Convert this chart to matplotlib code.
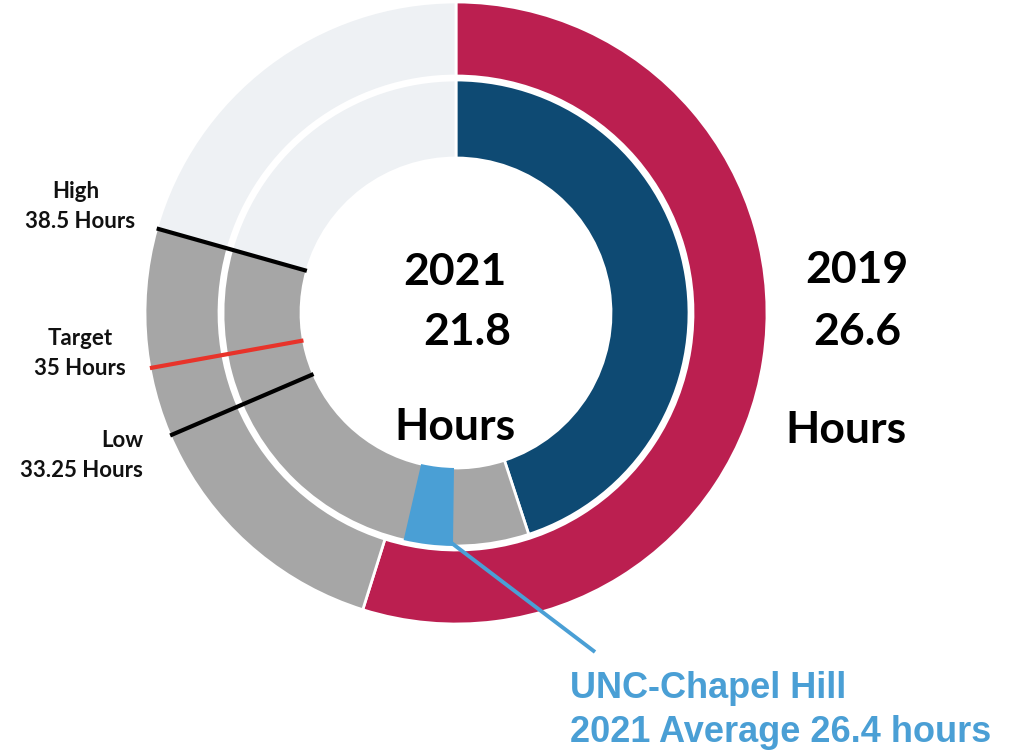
import matplotlib
matplotlib.use("Agg")
import matplotlib.pyplot as plt
from matplotlib.patches import Wedge
import numpy as np

# ---- data ----
scale_total = 48.5          # hours represented by the full circle
hours_2019 = 26.6
hours_2021 = 21.8
high_hours = 38.5
target_hours = 35.0
low_hours = 33.25
unc_marker = [24.35, 26.0]  # drawn span of the UNC marker (hours)

RED = "#bb1f50"
BLUE = "#0e4a73"
GRAY = "#a6a6a6"
LIGHT = "#eef1f4"
LBLUE = "#4a9fd5"
TRED = "#e8332a"

outer_vals = [hours_2019, high_hours - hours_2019, scale_total - high_hours]
inner_vals = [hours_2021, high_hours - hours_2021, scale_total - high_hours]

fig = plt.figure(figsize=(10.13, 7.5), dpi=100)
ax = fig.add_axes([0, 0, 1, 1])

cx, cy = 456, 313
R_out, W_out = 311, 74
R_in, W_in = 233, 78

ax.pie(outer_vals, radius=R_out, center=(cx, cy), startangle=-90, counterclock=True,
       colors=[RED, GRAY, LIGHT],
       wedgeprops=dict(width=W_out, edgecolor="white", linewidth=2))
ax.pie(inner_vals, radius=R_in, center=(cx, cy), startangle=-90, counterclock=True,
       colors=[BLUE, GRAY, LIGHT],
       wedgeprops=dict(width=W_in, edgecolor="white", linewidth=2))

def ang(h):
    return h / scale_total * 360.0 - 90.0

# UNC marker
ax.add_patch(Wedge((cx, cy), R_in, ang(unc_marker[0]), ang(unc_marker[1]),
                   width=W_in, facecolor=LBLUE, edgecolor="none", zorder=3))

# reference lines
r0, r1 = R_in - W_in, R_out
for h, c in [(high_hours, "black"), (target_hours, TRED), (low_hours, "black")]:
    a = np.deg2rad(ang(h))
    ax.plot([cx + r0 * np.cos(a), cx + r1 * np.cos(a)],
            [cy + r0 * np.sin(a), cy + r1 * np.sin(a)],
            color=c, lw=3, solid_capstyle="butt", zorder=4)

# leader line
ax.plot([445, 595], [538, 652], color=LBLUE, lw=2.8, solid_capstyle="butt", zorder=4)

ax.set_xlim(0, 1013)
ax.set_ylim(750, 0)
ax.set_aspect("equal")
ax.axis("off")

big = dict(fontsize=32, fontweight="bold", family=["Lato", "DejaVu Sans"], color="black", va="baseline")
ax.text(455, 285, "2021", ha="center", **big)
ax.text(467, 345, str(hours_2021), ha="center", **big)
ax.text(455, 440, "Hours", ha="center", **big)
ax.text(857, 283, "2019", ha="center", **big)
ax.text(857, 345, str(hours_2019), ha="center", **big)
ax.text(846, 443, "Hours", ha="center", **big)

sm = dict(fontsize=16, fontweight="bold", family=["Lato", "DejaVu Sans"], color="#111111", va="baseline")
ax.text(76, 198, "High", ha="center", **sm)
ax.text(80, 228, f"{high_hours} Hours", ha="center", **sm)
ax.text(80, 345, "Target", ha="center", **sm)
ax.text(80, 375, f"{target_hours:g} Hours", ha="center", **sm)
ax.text(143, 447, "Low", ha="right", **sm)
ax.text(143, 477, f"{low_hours} Hours", ha="right", **sm)

bt = dict(fontsize=26, fontweight="bold", family=["Liberation Sans", "DejaVu Sans"], color=LBLUE, va="baseline", ha="left")
ax.text(570, 698, "UNC-Chapel Hill", **bt)
ax.text(570, 742, "2021 Average 26.4 hours", **bt)

fig.savefig("out.png", dpi=100)
